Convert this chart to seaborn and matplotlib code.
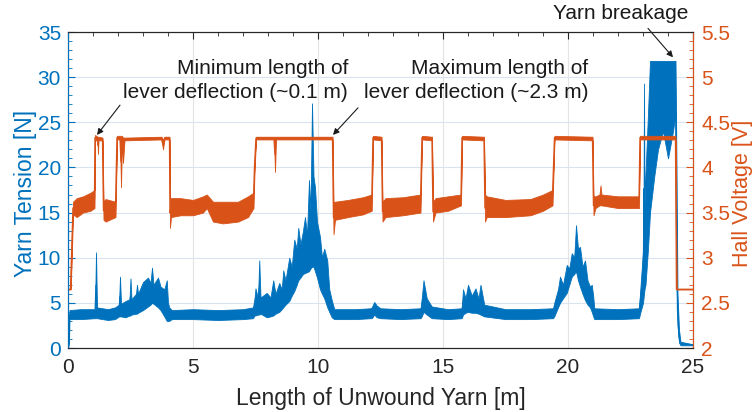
import pandas as pd
import matplotlib.pyplot as plt
from matplotlib.ticker import MultipleLocator
import seaborn as sns
sns.set_style('white')
plt.rcParams['font.family'] = ['Liberation Sans', 'DejaVu Sans']

BLUE = '#0072BD'
ORANGE = '#D95319'

# Hall voltage: position [m], lower / upper edge of the noise band [V]
hall_x = [0.00, 0.10, 0.14, 0.20, 0.35, 0.60, 0.90, 1.06, 1.08, 1.18, 1.20, 1.22, 1.38, 1.42, 1.50,
          1.90, 1.96, 2.08, 2.12, 2.16, 2.20, 2.26, 3.74, 3.80, 3.86, 4.06, 4.08, 4.12, 4.50, 5.00,
          5.40, 5.55, 5.80, 6.20, 6.80, 7.20, 7.42, 7.46, 7.52, 8.24, 8.28, 8.32, 10.58, 10.62, 10.68,
          11.20, 11.80, 12.15, 12.20, 12.54, 12.58, 12.70, 13.40, 14.10, 14.16, 14.56, 14.60, 14.70,
          15.20, 15.72, 15.76, 16.64, 16.68, 16.75, 17.50, 18.50, 19.00, 19.38, 19.46, 20.98, 21.02,
          21.10, 21.26, 21.30, 21.34, 22.00, 22.84, 22.88, 24.30, 24.34, 25.00]
hall_lo = [2.65, 2.65, 2.90, 3.48, 3.45, 3.50, 3.52, 3.55, 4.30, 4.30, 4.15, 4.30, 4.30, 3.42, 3.40,
           3.45, 4.31, 4.31, 3.78, 4.31, 4.05, 4.30, 4.31, 4.20, 4.31, 4.31, 3.33, 3.45, 3.47, 3.47,
           3.50, 3.55, 3.40, 3.38, 3.40, 3.45, 3.55, 3.95, 4.31, 4.31, 3.95, 4.31, 4.31, 3.26, 3.42,
           3.45, 3.48, 3.52, 4.31, 4.30, 3.40, 3.45, 3.47, 3.50, 4.31, 4.30, 3.40, 3.50,
           3.52, 3.58, 4.31, 4.30, 3.40, 3.45, 3.45, 3.47, 3.52, 3.58, 4.31, 4.30, 3.47,
           3.55, 3.58, 3.58, 3.58, 3.55, 3.55, 4.31, 4.31, 2.65, 2.65]
hall_hi = [2.65, 2.65, 3.10, 3.62, 3.66, 3.68, 3.72, 3.75, 4.36, 4.34, 4.34, 4.34, 4.33, 3.62, 3.65,
           3.62, 4.35, 4.35, 4.35, 4.35, 4.33, 4.33, 4.34, 4.30, 4.34, 4.34, 3.66, 3.66, 3.66, 3.64,
           3.68, 3.70, 3.62, 3.62, 3.62, 3.68, 3.72, 4.05, 4.34, 4.34, 4.34, 4.34, 4.34, 3.62, 3.62,
           3.64, 3.67, 3.70, 4.35, 4.34, 3.62, 3.66, 3.67, 3.70, 4.35, 4.34, 3.62, 3.66,
           3.68, 3.70, 4.35, 4.34, 3.70, 3.68, 3.64, 3.65, 3.70, 3.75, 4.35, 4.34, 3.68,
           3.68, 3.70, 3.80, 3.70, 3.68, 3.68, 4.35, 4.35, 2.65, 2.65]

# Yarn tension: position [m], lower / upper edge of the noise band [N]
ten_x = [0.00, 0.04, 0.06, 0.50, 1.08, 1.12, 1.16, 1.60, 1.88, 2.04,
         2.08, 2.12, 2.30, 2.46, 2.50, 2.54, 2.72, 2.76, 2.80, 3.00,
         3.20, 3.30, 3.36, 3.42, 3.60, 3.70, 3.85, 3.95, 4.00, 4.05,
         4.15, 5.00, 6.00, 7.00, 7.40, 7.46, 7.50, 7.60, 7.65, 7.70,
         7.95, 8.10, 8.21, 8.30, 8.45, 8.55, 8.61, 8.70, 8.85, 8.95,
         9.05, 9.15, 9.21, 9.30, 9.40, 9.48, 9.56, 9.64, 9.70, 9.76,
         9.82, 9.88, 9.96, 10.08, 10.16, 10.25, 10.37, 10.45, 10.55, 10.65,
         11.50, 12.10, 12.15, 12.25, 12.35, 12.50, 13.30, 14.10, 14.15, 14.22,
         14.35, 14.55, 15.20, 15.75, 15.80, 15.90, 16.00, 16.15, 16.30, 16.42,
         16.50, 16.65, 17.50, 18.50, 19.40, 19.45, 19.60, 19.68, 19.80, 19.95,
         20.05, 20.15, 20.25, 20.32, 20.40, 20.48, 20.58, 20.68, 20.78, 20.88,
         20.95, 21.01, 21.05, 22.00, 22.84, 22.88, 23.00, 23.02, 23.04, 23.06,
         23.10, 23.20, 23.28, 23.45, 23.60, 23.80, 24.00, 24.20, 24.30, 24.34,
         24.38, 24.44, 24.50, 25.00]
ten_lo = [0.0, 0.5, 3.2, 3.2, 3.3, 3.3, 3.3, 3.1, 3.2, 3.5,
          3.5, 3.5, 3.4, 3.6, 3.6, 3.7, 3.8, 3.8, 3.9, 4.2,
          4.6, 4.8, 5.0, 4.9, 4.5, 4.2, 3.5, 3.0, 3.0, 3.0,
          3.2, 3.2, 3.1, 3.2, 3.3, 3.6, 3.6, 3.7, 3.7, 3.8,
          3.4, 3.5, 3.6, 3.8, 4.0, 4.3, 4.5, 4.8, 5.2, 5.8,
          6.3, 7.0, 7.5, 7.8, 8.2, 8.3, 8.4, 8.5, 8.8, 9.0,
          9.0, 8.5, 7.8, 6.5, 6.0, 5.5, 4.5, 4.0, 3.4, 3.2,
          3.2, 3.3, 3.3, 3.7, 3.4, 3.3, 3.2, 3.3, 3.5, 4.0,
          3.7, 3.3, 3.2, 3.3, 3.7, 3.9, 4.0, 3.9, 3.9, 3.8,
          3.7, 3.5, 3.2, 3.2, 3.3, 3.5, 4.5, 5.0, 5.5, 6.1,
          7.0, 7.9, 8.2, 8.5, 7.5, 6.8, 6.0, 5.3, 4.8, 4.5,
          4.0, 3.5, 3.2, 3.2, 3.3, 3.8, 5.0, 5.5, 6.0, 6.5,
          7.0, 11.0, 15.0, 19.0, 22.0, 24.0, 21.0, 24.0, 26.0, 8.0,
          2.5, 0.6, 0.3, 0.3]
ten_hi = [0.0, 3.0, 4.2, 4.3, 4.3, 10.6, 4.5, 4.3, 4.5, 4.8,
          7.9, 4.9, 5.2, 5.4, 7.7, 5.4, 6.0, 7.0, 6.0, 7.3,
          7.8, 7.2, 8.9, 7.0, 7.8, 6.8, 6.5, 7.5, 5.0, 4.5,
          4.2, 4.3, 4.2, 4.3, 4.5, 5.5, 6.6, 5.5, 9.7, 5.6,
          6.1, 5.6, 7.5, 6.0, 7.2, 6.5, 8.6, 7.5, 10.0, 9.0,
          12.0, 11.0, 13.3, 11.5, 13.0, 14.5, 12.5, 18.6, 15.0, 27.1,
          19.0, 17.8, 14.0, 12.3, 10.0, 11.0, 9.7, 6.5, 5.3, 4.3,
          4.3, 4.4, 4.5, 5.1, 4.7, 4.4, 4.3, 4.4, 5.5, 7.5,
          5.5, 4.6, 4.3, 4.4, 6.5, 5.5, 7.0, 5.8, 6.6, 5.5,
          7.0, 4.8, 4.3, 4.3, 4.4, 5.0, 6.5, 7.9, 7.0, 9.2,
          8.8, 10.5, 10.0, 13.6, 11.0, 11.2, 9.0, 9.7, 7.5, 6.8,
          7.0, 5.7, 4.4, 4.3, 4.4, 6.0, 10.8, 15.0, 29.3, 16.0,
          19.3, 26.0, 31.8, 31.8, 31.8, 31.8, 31.8, 31.8, 31.8, 20.0,
          6.0, 2.0, 0.7, 0.4]


def band(x, lo, hi):
    # two rows per position, so seaborn's min-max interval spans the noise band
    return pd.DataFrame({'x': x + x, 'y': lo + hi})


fig = plt.figure(figsize=(7.55, 4.12), dpi=100)
ax = fig.add_axes([68 / 755, 64 / 412, 625 / 755, 316 / 412])
ax2 = ax.twinx()

sns.lineplot(data=band(ten_x, ten_lo, ten_hi), x='x', y='y', ax=ax, color=BLUE, lw=0.9,
             estimator='mean', errorbar=('pi', 100), err_kws=dict(alpha=1, lw=0.6))
sns.lineplot(data=band(hall_x, hall_lo, hall_hi), x='x', y='y', ax=ax2, color=ORANGE, lw=1.0,
             estimator='mean', errorbar=('pi', 100), err_kws=dict(alpha=1, lw=0.6))

ax.set_xlim(0, 25)
ax.set_ylim(0, 35)
ax2.set_ylim(2, 5.5)

ax.xaxis.set_major_locator(MultipleLocator(5))
ax.xaxis.set_minor_locator(MultipleLocator(1))
ax.yaxis.set_major_locator(MultipleLocator(5))
ax.yaxis.set_minor_locator(MultipleLocator(1))
ax2.yaxis.set_major_locator(MultipleLocator(0.5))
ax2.yaxis.set_minor_locator(MultipleLocator(0.1))
ax2.yaxis.set_major_formatter(plt.FuncFormatter(lambda v, p: f'{v:g}'))

ax.grid(axis='y', which='major', color='#dae4ee', lw=0.8)
ax.grid(axis='x', which='major', color='#e4e4e4', lw=0.8)
ax.set_axisbelow(True)

ax.tick_params(axis='x', which='both', direction='in', top=True, colors='#262626', labelsize=15, pad=7)
ax.tick_params(axis='x', which='major', length=5)
ax.tick_params(axis='x', which='minor', length=3)
ax.tick_params(axis='y', which='both', direction='in', colors=BLUE, labelsize=15, pad=5)
ax.tick_params(axis='y', which='major', length=5)
ax.tick_params(axis='y', which='minor', length=3)
ax2.tick_params(axis='y', which='both', direction='in', colors=ORANGE, labelsize=15, pad=6)
ax2.tick_params(axis='y', which='major', length=5)
ax2.tick_params(axis='y', which='minor', length=3)

for a in (ax, ax2):
    for s in a.spines.values():
        s.set_color('#262626')
        s.set_linewidth(0.8)
ax2.spines['left'].set_color(BLUE)
ax2.spines['right'].set_color(ORANGE)

ax.set_xlabel('Length of Unwound Yarn [m]', fontsize=16.5, color='#262626')
ax.set_ylabel('Yarn Tension [N]', fontsize=16.5, color=BLUE)
ax2.set_ylabel('Hall Voltage [V]', fontsize=15.5, color=ORANGE)
ax.xaxis.set_label_coords(0.5, -0.125)
ax.yaxis.set_label_coords(-0.05, 0.49)
ax2.yaxis.set_label_coords(1.063, 0.49)

# annotations, placed in tension units of the left axis
txt = dict(fontsize=15, color='#1a1a1a', ha='right', va='center')
ax.text(11.2, 31.0, 'Minimum length of', **txt)
ax.text(11.2, 28.35, 'lever deflection (~0.1 m)', **txt)
ax.text(20.8, 31.0, 'Maximum length of', **txt)
ax.text(20.8, 28.35, 'lever deflection (~2.3 m)', **txt)
ax.text(22.1, 37.0, 'Yarn breakage', fontsize=15, color='#1a1a1a', ha='center', va='center', clip_on=False)

arrow = dict(arrowstyle='-|>', color='#1a1a1a', lw=0.8, mutation_scale=9, shrinkA=0, shrinkB=0)
ax.annotate('', xy=(1.16, 23.6), xytext=(2.08, 26.9), arrowprops=arrow)
ax.annotate('', xy=(10.6, 23.6), xytext=(11.6, 26.6), arrowprops=arrow)
ax.annotate('', xy=(24.2, 32.2), xytext=(23.2, 35.4), arrowprops=arrow, annotation_clip=False)

fig.savefig('out.png', dpi=100)
